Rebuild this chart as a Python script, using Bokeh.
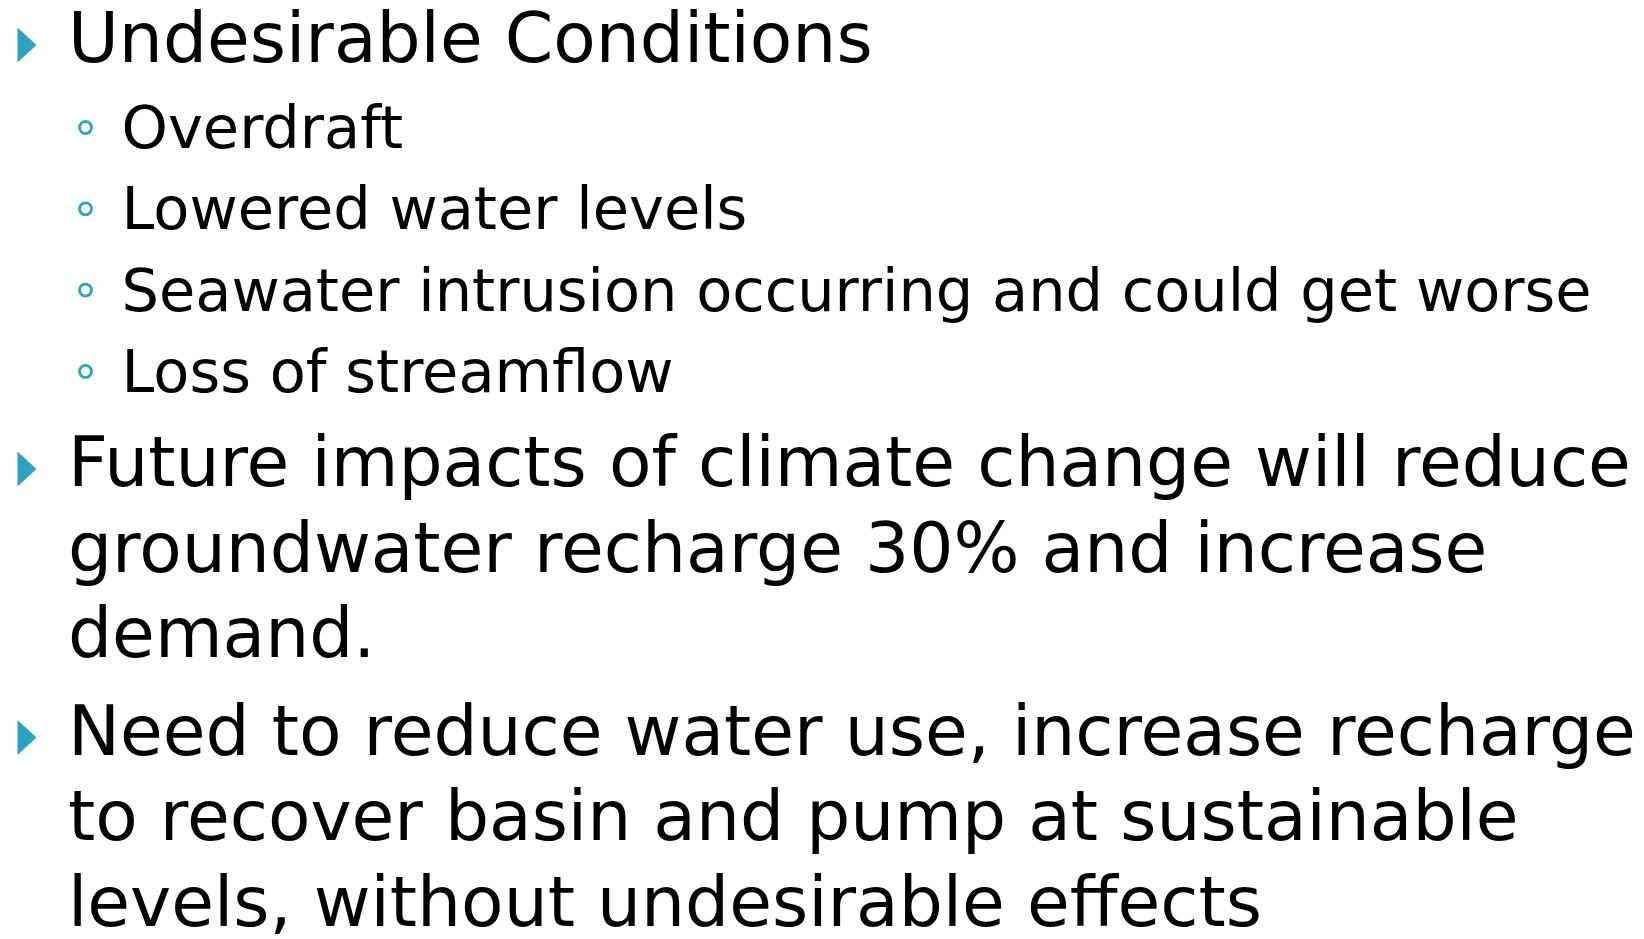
from bokeh.plotting import figure
from bokeh.models import Range1d, ColumnDataSource
from bokeh.core.properties import value
from bokeh.embed import file_html
from bokeh.resources import INLINE

# ---- content ----
lines = [
    "Undesirable Conditions",
    "Overdraft",
    "Lowered water levels",
    "Seawater intrusion occurring and could get worse",
    "Loss of streamflow",
    "Future impacts of climate change will reduce",
    "groundwater recharge 30% and increase",
    "demand.",
    "Need to reduce water use, increase recharge",
    "to recover basin and pump at sustainable",
    "levels, without undesirable effects",
]
levels = [1, 2, 2, 2, 2, 1, 1, 1, 1, 1, 1]
bullet = [True, True, True, True, True, True, False, False, True, False, False]

# ---- layout (page pixel coordinates, y downwards) ----
W, H = 1644, 939
FONT = "DejaVu Sans"
SIZE = {1: 69.5, 2: 59}
TEXT_X = {1: 67.5, 2: 121}
BASE_SHIFT = 0.37          # renderer places text lower by ~0.37em
ACCENT = "#2BA4C1"

baselines = []
y = 63.0
prev = None
for lvl, b in zip(levels, bullet):
    if prev is not None:
        if lvl == 2:
            y += 81.3 if prev == 2 else 86
        elif not b:
            y += 85.5
        else:
            y += 94 if prev == 2 else 97.5
    baselines.append(y)
    prev = lvl

p = figure(width=W, height=H, output_backend="svg", toolbar_location=None,
           x_range=Range1d(0, W), y_range=Range1d(H, 0),
           min_border=0)
p.axis.visible = False
p.grid.visible = False
p.outline_line_color = None
p.background_fill_color = "white"
p.border_fill_color = "white"

for lvl in (1, 2):
    idx = [i for i in range(len(lines)) if levels[i] == lvl]
    src = ColumnDataSource(dict(x=[TEXT_X[lvl]] * len(idx),
                                y=[baselines[i] - BASE_SHIFT * SIZE[lvl] for i in idx],
                                t=[lines[i] for i in idx]))
    p.text(x="x", y="y", text="t", source=src,
           text_font=value(FONT), text_font_size=f"{SIZE[lvl]}px",
           text_color="black", text_baseline="alphabetic", text_align="left")

# level-1 triangle bullets
xs, ys = [], []
for i in range(len(lines)):
    if levels[i] == 1 and bullet[i]:
        b = baselines[i]
        xs.append([17, 36, 17])
        ys.append([b - 36, b - 18.5, b - 1])
p.patches(xs, ys, fill_color=ACCENT, line_color=None)

# level-2 ring bullets
cx, cy = [], []
for i in range(len(lines)):
    if levels[i] == 2:
        cx.append(85)
        cy.append(baselines[i] - 22)
p.scatter(cx, cy, marker="circle", size=12, fill_color=None,
          line_color=ACCENT, line_width=2.8)

open("out.html", "w").write(file_html(p, INLINE))
